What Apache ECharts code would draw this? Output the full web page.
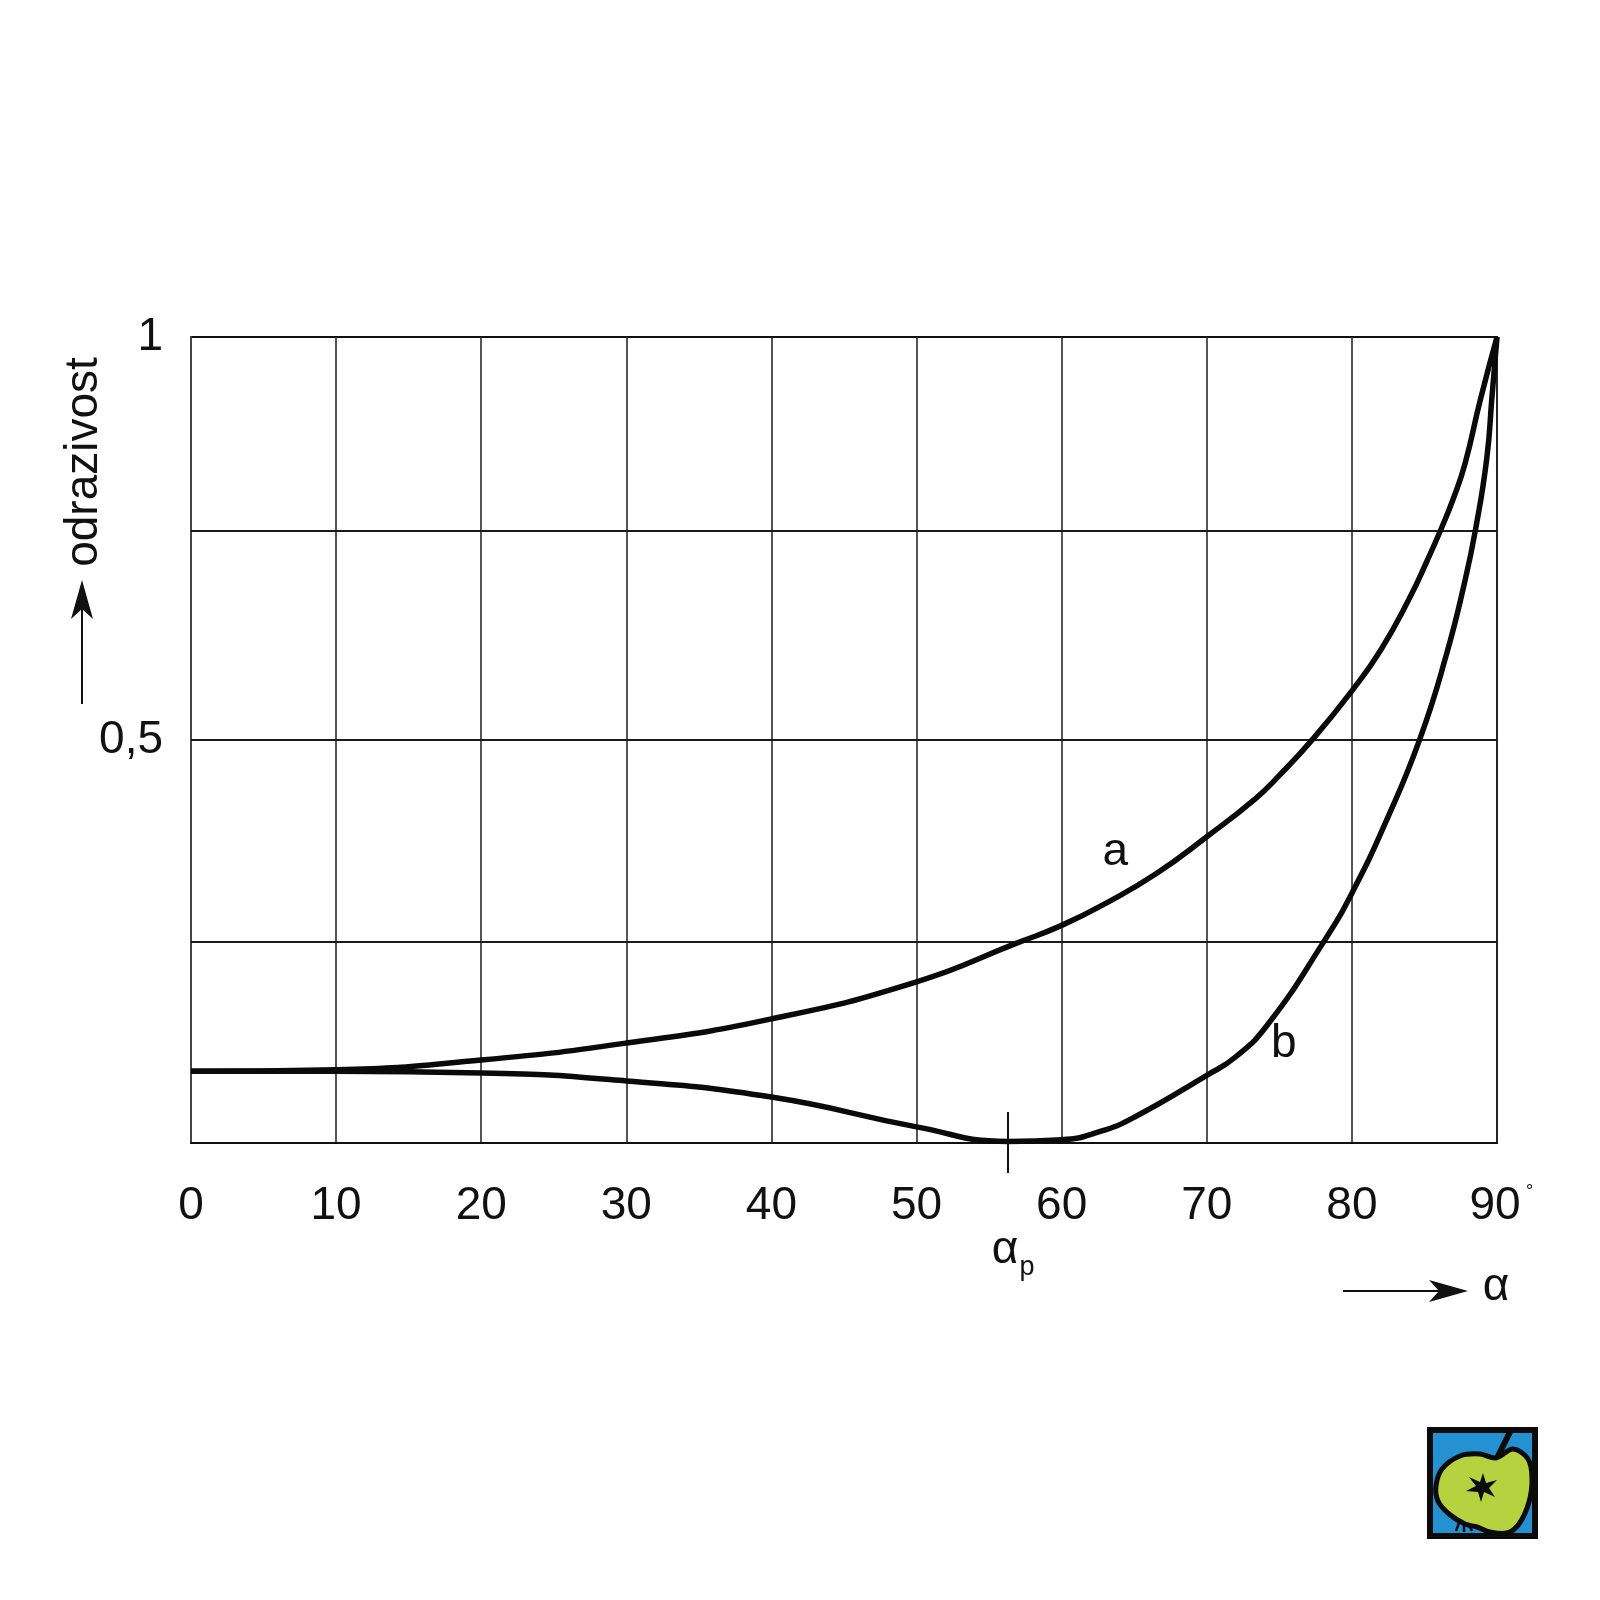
<!DOCTYPE html>
<html><head><meta charset="utf-8">
<script src="https://cdn.jsdelivr.net/npm/echarts@6/dist/echarts.min.js"></script>
<style>html,body{margin:0;padding:0;background:#fff}#c{width:1600px;height:1600px}</style>
</head><body><div id="c"></div>
<script>
// ---- data ----
const xTicks = [0, 10, 20, 30, 40, 50, 60, 70, 80, 90];
const yTickLabels = { '0.5': '0,5', '1': '1' };
const gridLevels = [0.248, 0.5, 0.764];
const curveA = [[0,0.089],[10,0.091],[20,0.103],[30,0.124],[40,0.154],[50,0.200],[56.9,0.248],[60,0.270],[63.1,0.298],[66.5,0.334],[70,0.380],[73.4,0.428],[75,0.456],[77.35,0.502],[80,0.561],[82,0.612],[84,0.677],[85.2,0.723],[86.2,0.764],[87,0.800],[87.8,0.843],[88.85,0.922],[90,1.0]];
const curveB = [[0,0.089],[10,0.089],[20,0.087],[30,0.077],[40,0.057],[50,0.020],[56.3,0.002],[60,0.004],[62.6,0.014],[65,0.032],[70,0.084],[72,0.107],[74.2,0.147],[78,0.248],[80,0.310],[82.5,0.405],[84.7,0.502],[86.5,0.605],[87.8,0.698],[88.55,0.764],[89.3,0.850],[89.65,0.925],[90,1.0]];
const brewsterAngle = 56.3;
const labelA = [63.7, 0.361];
const labelB = [75.3, 0.122];

const FONT = 'Liberation Sans, Arial, Helvetica, sans-serif';
const chart = echarts.init(document.getElementById('c'), null, { renderer: 'canvas' });

const option = {
  backgroundColor: '#fff',
  animation: false,
  grid: { left: 191, right: 103, top: 337, bottom: 457, show: true, borderColor: '#111', borderWidth: 2 },
  xAxis: {
    type: 'value', min: 0, max: 90, interval: 10,
    axisLine: { show: true, onZero: false, lineStyle: { color: '#111', width: 2 } },
    axisTick: { show: false },
    splitLine: { show: true, lineStyle: { color: '#2a2a2a', width: 1.6 } },
    axisLabel: {
      margin: 40, fontSize: 46, color: '#111', fontFamily: FONT,
      formatter: v => v === 90 ? '{s|}90{d|°}' : String(v),
      rich: {
        s: { width: 10 },
        d: { width: 10, fontSize: 18, color: '#111', fontFamily: FONT, verticalAlign: 'top', padding: [0, 0, 14, 4] }
      }
    }
  },
  yAxis: {
    type: 'value', min: 0, max: 1, interval: 0.5,
    axisLine: { show: true, lineStyle: { color: '#444', width: 2 } },
    axisTick: { show: false },
    splitLine: { show: false },
    axisLabel: {
      margin: 28, fontSize: 46, color: '#111', fontFamily: FONT,
      formatter: v => yTickLabels[String(v)] || ''
    }
  },
  series: [
    {
      type: 'line', data: curveA, smooth: 0.5, showSymbol: false, symbol: 'none',
      lineStyle: { color: '#0a0a0a', width: 5.5 }, z: 5,
      markLine: {
        silent: true, symbol: 'none', animation: false,
        label: { show: false },
        lineStyle: { color: '#1a1a1a', width: 1.8, type: 'solid' },
        data: gridLevels.map(v => ({ yAxis: v }))
      },
      markPoint: {
        symbol: 'circle', symbolSize: 1, itemStyle: { color: 'rgba(0,0,0,0)' },
        label: { show: true, position: 'inside', formatter: 'a', fontSize: 46, color: '#111', fontFamily: FONT },
        data: [{ coord: labelA }]
      }
    },
    {
      type: 'line', data: curveB, smooth: 0.5, showSymbol: false, symbol: 'none',
      lineStyle: { color: '#0a0a0a', width: 5.5 }, z: 5,
      markPoint: {
        symbol: 'circle', symbolSize: 1, itemStyle: { color: 'rgba(0,0,0,0)' },
        label: { show: true, position: 'inside', formatter: 'b', fontSize: 46, color: '#111', fontFamily: FONT },
        data: [{ coord: labelB }]
      }
    }
  ]
};
chart.setOption(option);

// annotations positioned from the axes
const bp = chart.convertToPixel({ gridIndex: 0 }, [brewsterAngle, 0]);
const graphics = [
  // Brewster tick
  { type: 'line', shape: { x1: bp[0], y1: bp[1] - 31, x2: bp[0], y2: bp[1] + 30 }, style: { stroke: '#111', lineWidth: 2 }, z: 10 },
  // alpha_p label
  { type: 'text', x: bp[0] - 3, y: bp[1] + 107, z: 10,
    style: { text: 'α', font: '46px ' + FONT, fill: '#111', align: 'center', verticalAlign: 'middle' } },
  { type: 'text', x: bp[0] + 19, y: bp[1] + 125, z: 10,
    style: { text: 'p', font: '27px ' + FONT, fill: '#111', align: 'center', verticalAlign: 'middle' } },
  // y axis title
  { type: 'text', x: 84, y: 462, rotation: Math.PI / 2, z: 10,
    style: { text: 'odrazivost', font: '46px ' + FONT, fill: '#111', align: 'center', verticalAlign: 'middle' } },
  // y arrow
  { type: 'line', shape: { x1: 82, y1: 704, x2: 82, y2: 606 }, style: { stroke: '#111', lineWidth: 2 } },
  { type: 'polygon', shape: { points: [[82, 580], [93, 619], [82, 609], [71, 619]] }, style: { fill: '#111' } },
  // x arrow
  { type: 'line', shape: { x1: 1343, y1: 1291, x2: 1442, y2: 1291 }, style: { stroke: '#111', lineWidth: 2 } },
  { type: 'polygon', shape: { points: [[1468, 1291], [1429, 1280], [1439, 1291], [1429, 1302]] }, style: { fill: '#111' } },
  { type: 'text', x: 1496, y: 1287, style: { text: 'α', font: '46px ' + FONT, fill: '#111', align: 'center', verticalAlign: 'middle' } },
  // logo
  { type: 'rect', shape: { x: 1427, y: 1427, width: 111, height: 112 }, style: { fill: '#0b0b0b' } },
  { type: 'rect', shape: { x: 1433, y: 1433, width: 99, height: 100 }, style: { fill: '#2391d2' } },
  { type: 'line', shape: { x1: 1497, y1: 1458, x2: 1511, y2: 1430 }, style: { stroke: '#0b0b0b', lineWidth: 6 } },
  { type: 'polygon', shape: { smooth: 0.35, points: [[1496,1458],[1513,1449],[1528,1459],[1532,1478],[1529,1502],[1519,1524],[1507,1533],[1490,1532],[1477,1527],[1465,1524],[1449,1514],[1438,1501],[1436,1486],[1442,1469],[1460,1456],[1480,1454]] },
    style: { fill: '#b6d23f', stroke: '#0b0b0b', lineWidth: 5 } },
  { type: 'polygon', shape: { points: [[1483,1473],[1486,1483],[1497,1480],[1489,1488],[1495,1497],[1484,1492],[1481,1502],[1478,1492],[1466,1491],[1476,1486],[1469,1477],[1480,1482]] },
    style: { fill: '#0b0b0b' } },
  { type: 'polyline', shape: { points: [[1460,1520],[1456,1531]] }, style: { stroke: '#0b0b0b', lineWidth: 2.5 } },
  { type: 'polyline', shape: { points: [[1464,1522],[1464,1532]] }, style: { stroke: '#0b0b0b', lineWidth: 2.5 } },
  { type: 'polyline', shape: { points: [[1468,1523],[1472,1531]] }, style: { stroke: '#0b0b0b', lineWidth: 2.5 } }
];
chart.setOption({ graphic: graphics });
</script>
</body></html>
